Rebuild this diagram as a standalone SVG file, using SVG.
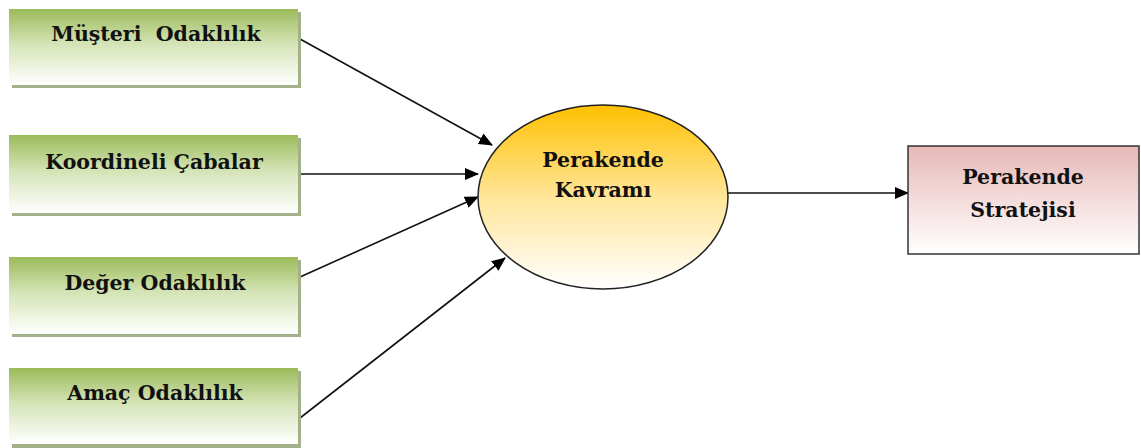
<svg xmlns="http://www.w3.org/2000/svg" width="1141" height="448" viewBox="0 0 1141 448">
  <defs>
    <linearGradient id="gGreen" x1="0" y1="0" x2="0" y2="1">
      <stop offset="0" stop-color="#9bbb59"/>
      <stop offset="0.45" stop-color="#d4e3b5"/>
      <stop offset="1" stop-color="#ffffff"/>
    </linearGradient>
    <linearGradient id="gGold" x1="0" y1="0" x2="0" y2="1">
      <stop offset="0" stop-color="#ffc000"/>
      <stop offset="0.5" stop-color="#ffe699"/>
      <stop offset="1" stop-color="#ffffff"/>
    </linearGradient>
    <linearGradient id="gPink" x1="0" y1="0" x2="0" y2="1">
      <stop offset="0" stop-color="#e6b8b7"/>
      <stop offset="0.5" stop-color="#f4dcdc"/>
      <stop offset="1" stop-color="#ffffff"/>
    </linearGradient>
    <marker id="arrow" markerWidth="14" markerHeight="12" refX="13" refY="6" orient="auto" markerUnits="userSpaceOnUse">
      <path d="M0,0 L14,6 L0,12 Z" fill="#000"/>
    </marker>
  </defs>
  <style>
    .shadow { fill: #a3b18a; }
    .gbox { fill: url(#gGreen); }
    .lbl { font-family: "DejaVu Serif", "Liberation Serif", serif; font-weight: bold; font-size: 20.5px; fill: #111; text-anchor: middle; }
    .conn { stroke: #111; stroke-width: 1.6; fill: none; marker-end: url(#arrow); }
  </style>

  <rect width="1141" height="448" fill="#ffffff"/>

  <g id="connectors">
    <line class="conn" x1="300" y1="39" x2="492" y2="145"/>
    <line class="conn" x1="300" y1="174" x2="478" y2="174"/>
    <line class="conn" x1="300" y1="277" x2="478" y2="197"/>
    <line class="conn" x1="300" y1="418" x2="505" y2="258"/>
    <line class="conn" x1="728" y1="193" x2="908" y2="193"/>
  </g>

  <g id="musteri-odaklilik">
    <rect class="shadow" x="12" y="12" width="289" height="76"/>
    <rect class="gbox" x="9" y="9" width="289" height="76"/>
    <text class="lbl" x="156" y="41" xml:space="preserve">Müşteri  Odaklılık</text>
  </g>

  <g id="koordineli-cabalar">
    <rect class="shadow" x="12" y="138" width="289" height="78"/>
    <rect class="gbox" x="9" y="135" width="289" height="78"/>
    <text class="lbl" x="154" y="169">Koordineli Çabalar</text>
  </g>

  <g id="deger-odaklilik">
    <rect class="shadow" x="12" y="260" width="289" height="77"/>
    <rect class="gbox" x="9" y="257" width="289" height="77"/>
    <text class="lbl" x="155" y="290">Değer Odaklılık</text>
  </g>

  <g id="amac-odaklilik">
    <rect class="shadow" x="12" y="371" width="289" height="77"/>
    <rect class="gbox" x="9" y="368" width="289" height="76"/>
    <text class="lbl" x="155" y="400">Amaç Odaklılık</text>
  </g>

  <g id="perakende-kavrami">
    <ellipse cx="603" cy="197" rx="125" ry="92" fill="url(#gGold)" stroke="#222" stroke-width="1.5"/>
    <text class="lbl" x="603" y="167">Perakende</text>
    <text class="lbl" x="603" y="197">Kavramı</text>
  </g>

  <g id="perakende-stratejisi">
    <rect x="908" y="146" width="231" height="108" fill="url(#gPink)" stroke="#333" stroke-width="1.5"/>
    <text class="lbl" x="1023" y="184">Perakende</text>
    <text class="lbl" x="1023" y="217">Stratejisi</text>
  </g>
</svg>
